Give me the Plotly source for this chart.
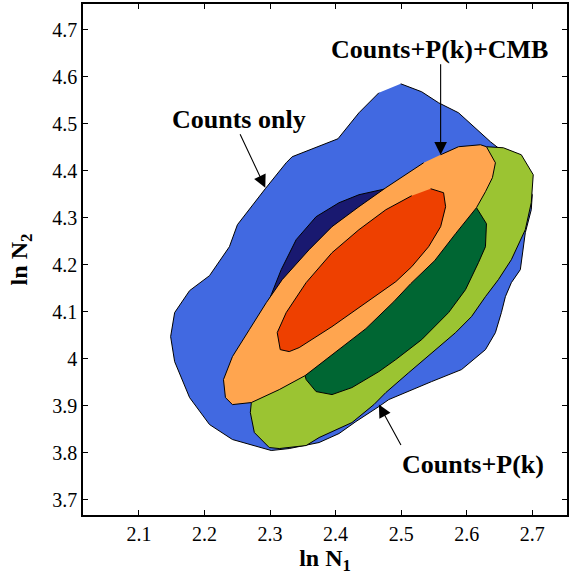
import plotly.graph_objects as go

# ---- data: contour outlines (ln N1, ln N2) ----
counts95_x = [2.4994, 2.5313, 2.5571, 2.5875, 2.6362, 2.6711, 2.7000, 2.6985, 2.6894, 2.6818,
              2.6681, 2.6590, 2.6529, 2.6438, 2.6286, 2.5921, 2.5465, 2.5070, 2.4812, 2.4660,
              2.4310, 2.4052, 2.3748, 2.3292, 2.3018, 2.2426, 2.2076, 2.1772, 2.1544, 2.1483,
              2.1544, 2.1772, 2.2076, 2.2380, 2.2502, 2.2927, 2.3246, 2.3337, 2.4036, 2.4356, 2.4660]
counts95_y = [4.5851, 4.5681, 4.5447, 4.5234, 4.4617, 4.4234, 4.3489, 4.3170, 4.2681, 4.1894,
              4.1617, 4.1319, 4.0979, 4.0553, 4.0191, 3.9766, 3.9511, 3.9277, 3.9128, 3.8979,
              3.8660, 3.8404, 3.8213, 3.8085, 3.8043, 3.8277, 3.8596, 3.9170, 3.9936, 4.0468,
              4.0979, 4.1447, 4.1766, 4.2383, 4.2851, 4.3617, 4.4170, 4.4298, 4.4681, 4.5234, 4.5660]

counts68_x = [2.2988, 2.3170, 2.3398, 2.3702, 2.4052, 2.4356, 2.4766, 2.5267, 2.4964, 2.3900, 2.3140]
counts68_y = [4.1255, 4.1894, 4.2532, 4.3021, 4.3319, 4.3489, 4.3617, 4.3383, 4.2106, 4.0830, 4.0830]

pk95_x = [2.6301, 2.6559, 2.6833, 2.7015, 2.6985, 2.6894, 2.6681, 2.6483, 2.6286, 2.6073,
          2.5830, 2.5465, 2.5116, 2.4766, 2.4584, 2.4249, 2.3748, 2.3550, 2.3140, 2.2988,
          2.2760, 2.2699, 2.2714, 2.2869, 2.3596, 2.4812, 2.5875]
pk95_y = [4.4511, 4.4489, 4.4340, 4.3915, 4.3319, 4.2745, 4.2106, 4.1681, 4.1319, 4.0894,
          4.0553, 4.0128, 3.9702, 3.9277, 3.9021, 3.8638, 3.8319, 3.8149, 3.8085, 3.8106,
          3.8426, 3.8851, 3.9064, 3.9447, 4.0617, 4.2319, 4.3702]

pk68_x = [2.6149, 2.6301, 2.6286, 2.6179, 2.5982, 2.5723, 2.5313, 2.4918, 2.4660, 2.4249,
          2.3945, 2.3702, 2.3550, 2.3535, 2.3900, 2.5267, 2.5967]
pk68_y = [4.3213, 4.2872, 4.2383, 4.2043, 4.1468, 4.0979, 4.0404, 3.9979, 3.9723, 3.9383,
          3.9234, 3.9298, 3.9553, 3.9638, 4.0298, 4.2000, 4.3085]

cmb95_x = [2.5602, 2.5875, 2.6210, 2.6301, 2.6438, 2.6392, 2.6286, 2.6149, 2.5830, 2.5511,
           2.5146, 2.4888, 2.4462, 2.4052, 2.3535, 2.3140, 2.2714, 2.2426, 2.2319, 2.2289,
           2.2426, 2.2684, 2.2942, 2.3185, 2.3596, 2.3945, 2.4356, 2.4766, 2.5116, 2.5343]
cmb95_y = [4.4340, 4.4511, 4.4553, 4.4511, 4.4170, 4.3851, 4.3553, 4.3213, 4.2660, 4.2085,
           4.1596, 4.1213, 4.0638, 4.0191, 3.9638, 3.9340, 3.9064, 3.9021, 3.9170, 3.9553,
           4.0043, 4.0617, 4.1191, 4.1681, 4.2319, 4.2809, 4.3234, 4.3638, 4.3957, 4.4170]

cmb68_x = [2.5450, 2.5647, 2.5678, 2.5602, 2.5419, 2.5161, 2.4918, 2.4462, 2.3945, 2.3444,
           2.3292, 2.3155, 2.3109, 2.3246, 2.3550, 2.3945, 2.4356, 2.4766, 2.5161]
cmb68_y = [4.3617, 4.3532, 4.3234, 4.2809, 4.2383, 4.1957, 4.1638, 4.1191, 4.0681, 4.0234,
           4.0149, 4.0191, 4.0553, 4.0979, 4.1617, 4.2255, 4.2745, 4.3170, 4.3468]

x_ticks = [2.1, 2.2, 2.3, 2.4, 2.5, 2.6, 2.7]
x_tick_labels = ["2.1", "2.2", "2.3", "2.4", "2.5", "2.6", "2.7"]
y_ticks = [3.7, 3.8, 3.9, 4.0, 4.1, 4.2, 4.3, 4.4, 4.5, 4.6, 4.7]
y_tick_labels = ["3.7", "3.8", "3.9", "4", "4.1", "4.2", "4.3", "4.4", "4.5", "4.6", "4.7"]

labels = ["Counts only", "Counts+P(k)+CMB", "Counts+P(k)"]
label_x = [2.2532, 2.5587, 2.6103]
label_y = [4.5085, 4.6574, 3.7745]
arrow_tail_x = [2.2532, 2.5602, 2.5009]
arrow_tail_y = [4.4809, 4.6298, 3.8128]
arrow_head_x = [2.2927, 2.5602, 2.4660]
arrow_head_y = [4.3638, 4.4340, 3.9021]

FONT = "Liberation Serif"

layers = [
    (counts95_x, counts95_y, "#4169E1"),
    (counts68_x, counts68_y, "#191970"),
    (pk95_x, pk95_y, "#9BC432"),
    (pk68_x, pk68_y, "#006633"),
    (cmb95_x, cmb95_y, "#FFA54F"),
    (cmb68_x, cmb68_y, "#EE4000"),
]

fig = go.Figure()
for xs, ys, col in layers:
    fig.add_trace(go.Scatter(x=xs, y=ys, mode="lines", fill="toself", fillcolor=col,
                             line=dict(color="black", width=1), hoverinfo="skip",
                             showlegend=False))

for t, lx, ly in zip(labels, label_x, label_y):
    fig.add_annotation(x=lx, y=ly, text="<b>" + t + "</b>", showarrow=False,
                       font=dict(family=FONT, size=26, color="black"))

for tx, ty, hx, hy in zip(arrow_tail_x, arrow_tail_y, arrow_head_x, arrow_head_y):
    fig.add_annotation(x=hx, y=hy, ax=tx, ay=ty, axref="x", ayref="y", text="",
                       showarrow=True, arrowhead=2, arrowsize=2.3, arrowwidth=1.1,
                       arrowcolor="black", standoff=0)

axis_common = dict(showgrid=False, zeroline=False, showline=True, linecolor="black",
                   linewidth=1.5, mirror="ticks", ticks="inside", ticklen=5,
                   tickcolor="black", tickwidth=1,
                   tickfont=dict(family=FONT, size=20, color="black"))

fig.update_xaxes(range=[2.0146, 2.753], tickvals=x_ticks, ticktext=x_tick_labels,
                 title=dict(text="<b>ln N<sub>1</sub></b>", standoff=2,
                            font=dict(family=FONT, size=24, color="black")),
                 **axis_common)
fig.update_yaxes(range=[3.667, 4.755], tickvals=y_ticks, ticktext=y_tick_labels,
                 title=dict(text="<b>ln N<sub>2</sub></b>", standoff=18,
                            font=dict(family=FONT, size=24, color="black")),
                 **axis_common)

fig.update_layout(width=570, height=583, margin=dict(l=83, r=1, t=4, b=68),
                  plot_bgcolor="white", paper_bgcolor="white")

fig.write_html("out.html")
